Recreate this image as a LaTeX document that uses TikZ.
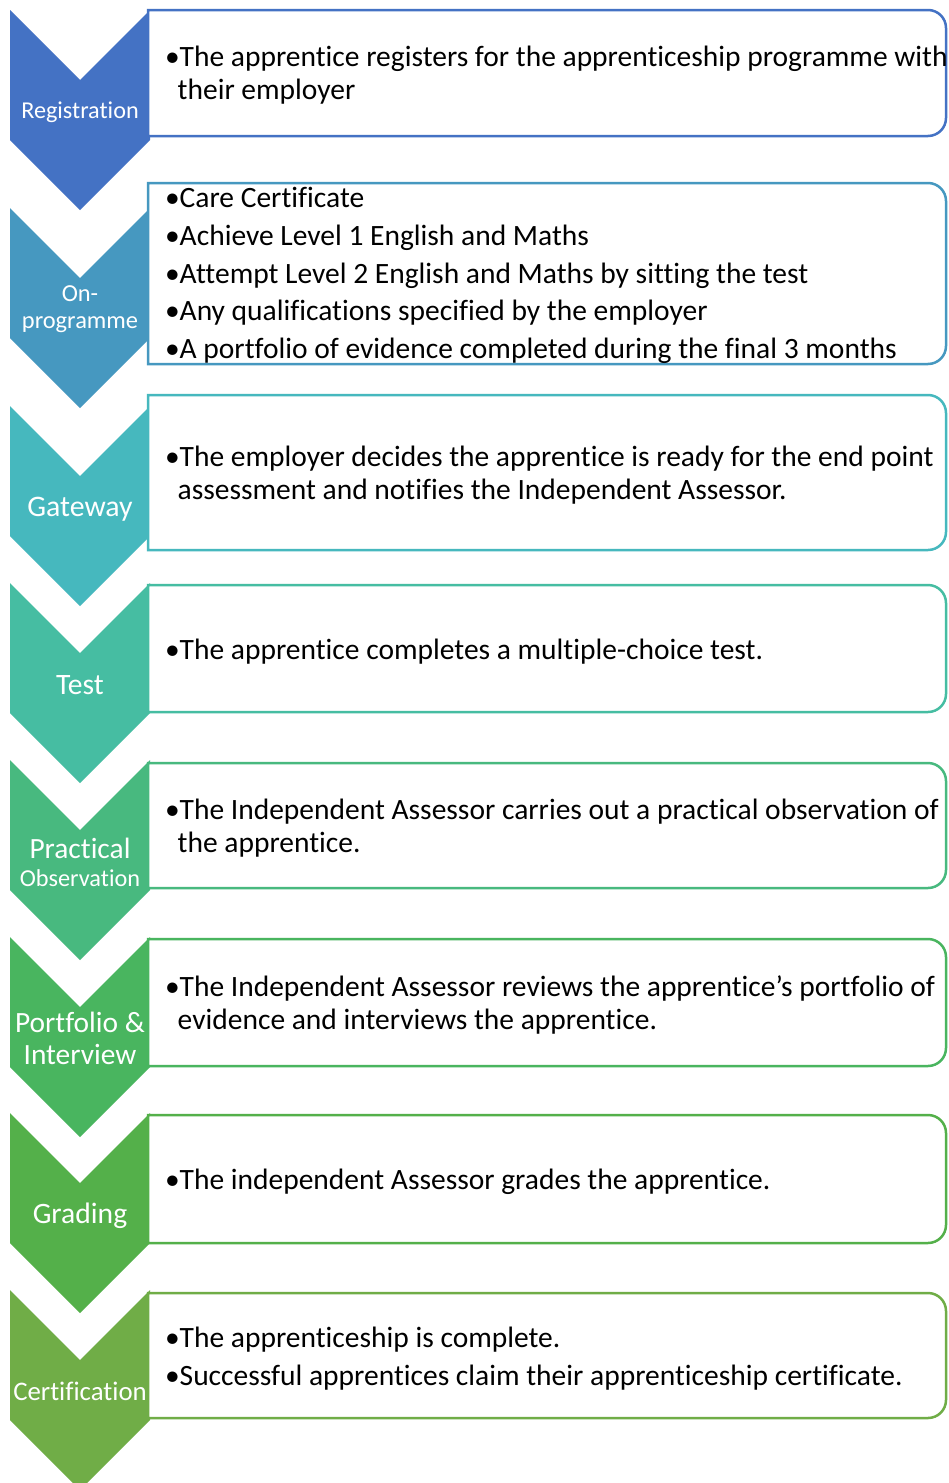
\documentclass[tikz,border=0pt]{standalone}
\usepackage{fontspec}
\setmainfont{Carlito}[Ligatures=NoCommon]
\definecolor{cA}{HTML}{4472C4}
\definecolor{cB}{HTML}{4698C0}
\definecolor{cC}{HTML}{46B8BE}
\definecolor{cD}{HTML}{46BDA2}
\definecolor{cE}{HTML}{48B97F}
\definecolor{cF}{HTML}{49B55F}
\definecolor{cG}{HTML}{54B04A}
\definecolor{cH}{HTML}{70AD47}
\newcommand{\chevshape}[2]{%
  \fill[#1] (10,#2) -- (80,#2+70) -- (150,#2) -- (150,#2+130) -- (80,#2+200) -- (10,#2+130) -- cycle;}
\newcommand{\stageframe}[3]{%
  \draw[boxframe=#1] (148,#2) -- (928,#2) arc[start angle=-90, end angle=0, radius=18]
     -- (946,#3-18) arc[start angle=0, end angle=90, radius=18] -- (148,#3) -- cycle;}
\newenvironment{bullist}{\begin{tabular}{@{}p{14.5pt}@{}l@{}}}{\end{tabular}}
\tikzset{
  boxframe/.style={draw=#1, line width=2.5pt, fill=white},
  chevtext/.style={text=white, align=center, inner sep=0pt},
  boxtext/.style={anchor=west, inner sep=0pt, font={\fontsize{29.5}{33}\selectfont}},
}
\begin{document}
\begin{tikzpicture}[x=1pt, y=-1pt]
\clip (0,0) rectangle (948,1483);
\fill[white] (0,0) rectangle (948,1483);
% chevrons
\chevshape{cA}{10}
\chevshape{cB}{208}
\chevshape{cC}{406}
\chevshape{cD}{583}
\chevshape{cE}{760}
\chevshape{cF}{937}
\chevshape{cG}{1113}
\chevshape{cH}{1290}
% boxes
\stageframe{cA}{10}{136}
\stageframe{cB}{183}{364}
\stageframe{cC}{395}{550}
\stageframe{cD}{585}{712}
\stageframe{cE}{763}{888}
\stageframe{cF}{939}{1066}
\stageframe{cG}{1115}{1243}
\stageframe{cH}{1293}{1418}
% chevron labels
\node[chevtext, font=\fontsize{24.2}{27}\selectfont] (l1) at (80,112) {Registration};
\node[chevtext, font=\fontsize{24.4}{27}\selectfont] (l2) at (80,309) {On-\\programme};
\node[chevtext, font=\fontsize{29.8}{32}\selectfont] (l3) at (80,509) {Gateway};
\node[chevtext, font=\fontsize{29.6}{32}\selectfont] (l4) at (80,685) {Test};
\node[chevtext, font=\fontsize{29.4}{28}\selectfont] (l5) at (80,862) {Practical\\{\fontsize{24.3}{28}\selectfont Observation}};
\node[chevtext, font=\fontsize{29.4}{32}\selectfont] (l6) at (80,1038) {Portfolio \&\\Interview};
\node[chevtext, font=\fontsize{29.6}{32}\selectfont] (l7) at (80,1216) {Grading};
\node[chevtext, font=\fontsize{26.8}{30}\selectfont] (l8) at (80,1391) {Certification};
% box texts
\node[boxtext] (t1) at (165,76.5) {\begin{bullist}\textbullet & The apprentice registers for the apprenticeship programme with\\ & \hspace{-2pt}their employer\end{bullist}};
\node[boxtext] (t2) at (165,276.5) {\begin{bullist}\textbullet & Care Certificate\\[4.7pt]
 \textbullet & Achieve Level 1 English and Maths\\[4.7pt]
 \textbullet & Attempt Level 2 English and Maths by sitting the test\\[4.7pt]
 \textbullet & Any qualifications specified by the employer\\[4.7pt]
 \textbullet & A portfolio of evidence completed during the final 3 months\end{bullist}};
\node[boxtext] (t3) at (165,476) {\begin{bullist}\textbullet & The employer decides the apprentice is ready for the end point\\ & \hspace{-2pt}assessment and notifies the Independent Assessor.\end{bullist}};
\node[boxtext] (t4) at (165,653) {\begin{bullist}\textbullet & The apprentice completes a multiple-choice test.\end{bullist}};
\node[boxtext] (t5) at (165,829.5) {\begin{bullist}\textbullet & The Independent Assessor carries out a practical observation of\\ & \hspace{-2pt}the apprentice.\end{bullist}};
\node[boxtext] (t6) at (165,1006) {\begin{bullist}\textbullet & The Independent Assessor reviews the apprentice's portfolio of\\ & \hspace{-2pt}evidence and interviews the apprentice.\end{bullist}};
\node[boxtext] (t7) at (165,1183) {\begin{bullist}\textbullet & The independent Assessor grades the apprentice.\end{bullist}};
\node[boxtext] (t8) at (165,1360) {\begin{bullist}\textbullet & The apprenticeship is complete.\\[4.7pt]
 \textbullet & Successful apprentices claim their apprenticeship certificate.\end{bullist}};
\end{tikzpicture}
\end{document}
